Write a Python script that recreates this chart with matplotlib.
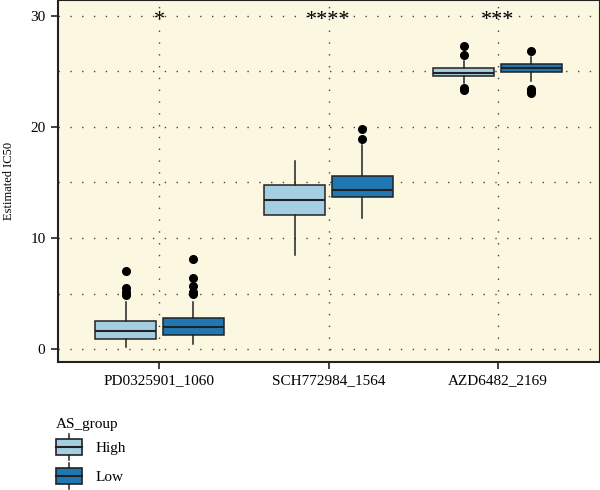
import matplotlib
matplotlib.use("Agg")
import matplotlib.pyplot as plt
from matplotlib.patches import Rectangle, Patch
from matplotlib.lines import Line2D
from matplotlib.legend_handler import HandlerBase

plt.rcParams['font.family'] = ['Liberation Serif', 'DejaVu Serif']

# drugs and groups
drugs = ['PD0325901_1060', 'SCH772984_1564', 'AZD6482_2169']
groups = ['High', 'Low']
group_colors = {'High': '#A6CEE3', 'Low': '#1F78B4'}
signif = ['*', '****', '***']

# box summaries: (whislo, q1, med, q3, whishi)
high_stats = [(0.15, 0.87, 1.62, 2.55, 4.2),
              (8.47, 12.07, 13.4, 14.75, 16.9),
              (23.96, 24.55, 24.9, 25.3, 25.9)]
low_stats = [(0.42, 1.26, 1.95, 2.82, 4.2),
             (11.8, 13.7, 14.35, 15.6, 18.4),
             (24.1, 24.95, 25.35, 25.7, 26.3)]
high_fliers = [[7.05, 5.47, 5.16, 4.86],
               [],
               [27.3, 26.5, 23.55, 23.3]]
low_fliers = [[8.14, 6.37, 5.68, 5.16, 5.0],
              [19.8, 18.9],
              [26.87, 23.4, 23.2, 23.05]]


def make_stats(summary, fliers):
    out = []
    for (lo, q1, med, q3, hi), fl in zip(summary, fliers):
        out.append(dict(whislo=lo, q1=q1, med=med, q3=q3, whishi=hi, fliers=fl))
    return out


class BoxKey(HandlerBase):
    # legend key drawn like a small boxplot
    def create_artists(self, legend, orig_handle, xdescent, ydescent,
                       width, height, fontsize, trans):
        fc = orig_handle.get_facecolor()
        x0, y0 = -xdescent, -ydescent
        bh = height * 0.6
        by = y0 + (height - bh) / 2
        cx = x0 + width / 2
        arts = [
            Line2D([cx, cx], [y0, by], color='#222222', lw=1.1),
            Line2D([cx, cx], [by + bh, y0 + height], color='#222222', lw=1.1),
            Rectangle((x0, by), width, bh, facecolor=fc, edgecolor='#222222', lw=1.2),
            Line2D([x0, x0 + width], [by + bh / 2, by + bh / 2], color='#222222', lw=1.5),
        ]
        for a in arts:
            a.set_transform(trans)
        return arts


fig = plt.figure(figsize=(6, 4.9), dpi=100)
ax = fig.add_axes([58 / 600, 1 - 362 / 490, 541 / 600, 362 / 490])
ax.set_facecolor('#FBF7E1')

pos = [1, 2, 3]
dodge = 0.2
width = 0.36

for stats_src, fl_src, g, sign in [(high_stats, high_fliers, 'High', -1),
                                   (low_stats, low_fliers, 'Low', 1)]:
    ax.bxp(make_stats(stats_src, fl_src),
           positions=[p + sign * dodge for p in pos],
           widths=width, patch_artist=True, showcaps=False,
           boxprops=dict(facecolor=group_colors[g], edgecolor='#222222', lw=1.1),
           medianprops=dict(color='#222222', lw=1.5),
           whiskerprops=dict(color='#222222', lw=1.1),
           flierprops=dict(marker='o', markerfacecolor='black',
                           markeredgecolor='black', markersize=5.5),
           zorder=3)

for p, s in zip(pos, signif):
    ax.text(p, 29.6, s, ha='center', va='center', fontsize=16, zorder=4)

ax.set_xlim(0.4, 3.6)
ax.set_ylim(-1.17, 31.44)
ax.set_xticks(pos)
ax.set_xticklabels(drugs)
ax.set_yticks([0, 10, 20, 30])
ax.set_yticks([5, 15, 25], minor=True)
ax.tick_params(axis='both', labelsize=11, length=5, width=1.2, color='#222222', pad=4)
ax.tick_params(axis='y', which='minor', length=0)

ax.set_axisbelow(True)
ax.grid(True, which='both', axis='y', color='#444444', lw=1.0, linestyle=(0, (1, 7.5)))
ax.grid(True, which='major', axis='x', color='#444444', lw=1.0, linestyle=(0, (1, 7.5)))

for side in ['left', 'bottom']:
    ax.spines[side].set_linewidth(1.5)
for side in ['top', 'right']:
    ax.spines[side].set_linewidth(0.8)
for sp in ax.spines.values():
    sp.set_color('#222222')

ax.set_ylabel('Estimated IC50', fontsize=9, labelpad=11)

handles = [Patch(facecolor=group_colors[g]) for g in groups]
leg = fig.legend(handles, groups, loc='upper left', bbox_to_anchor=(56 / 600, 1 - 418 / 490),
                 title='AS_group', fontsize=11, title_fontsize=11, frameon=False,
                 handler_map={Patch: BoxKey()}, handlelength=1.7, handleheight=2.24,
                 handletextpad=0.9, labelspacing=0.2, borderpad=0, borderaxespad=0,
                 alignment='left')

fig.savefig('out.png', dpi=100)
